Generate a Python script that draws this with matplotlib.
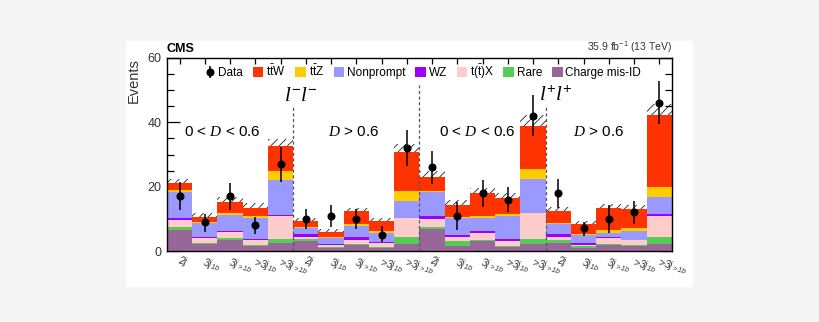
import numpy as np
import matplotlib
matplotlib.use("Agg")
import matplotlib.pyplot as plt
import matplotlib.patches as patches
from matplotlib.ticker import MultipleLocator

plt.rcParams['font.family'] = ['Liberation Sans', 'DejaVu Sans']
plt.rcParams['mathtext.fontset'] = 'custom'
plt.rcParams['mathtext.rm'] = 'Liberation Sans'
plt.rcParams['mathtext.it'] = 'Liberation Serif:italic'
plt.rcParams['mathtext.sf'] = 'Liberation Sans:italic'
plt.rcParams['hatch.linewidth'] = 0.6

# bin labels (4 regions x 5 jet/b categories)
cat_labels = ["2j", r"3j$_{\mathsf{1b}}$", r"3j$_{\mathsf{>1b}}$",
              r">3j$_{\mathsf{1b}}$", r">3j$_{\mathsf{>1b}}$"] * 4

# yields per process, bottom of the stack first
chargemisid = [6.5, 2.1, 3.3, 1.4, 2.6, 3.1, 0.8, 1.9, 0.8, 2.3,
               6.8, 1.6, 3.1, 1.25, 2.1, 2.6, 1.0, 1.9, 1.6, 2.1]
rare = [1.0, 0.5, 0.6, 0.5, 1.0, 0.5, 0.45, 0.2, 0.5, 1.9,
        0.7, 1.5, 0.2, 0.35, 1.5, 0.8, 0.5, 0.2, 0.2, 2.1]
ttx = [2.1, 1.3, 2.1, 1.4, 7.3, 0.8, 0.65, 1.2, 1.3, 6.0,
       2.4, 1.1, 2.4, 1.5, 8.1, 1.1, 0.4, 1.9, 1.5, 6.7]
wz = [0.8, 0.3, 0.15, 0.45, 0.2, 0.8, 0.4, 1.1, 0.3, 0.2,
      1.0, 0.8, 0.55, 0.5, 0.2, 0.7, 0.7, 0.4, 0.2, 0.6]
nonprompt = [7.8, 4.4, 4.9, 6.65, 11.1, 1.9, 1.7, 3.4, 2.8, 5.0,
             7.3, 5.4, 4.15, 7.3, 10.5, 3.1, 2.4, 1.3, 2.75, 5.2]
ttz = [0.8, 0.5, 0.9, 0.6, 2.6, 0.4, 0.4, 0.5, 0.55, 3.35,
       0.55, 0.3, 0.5, 0.6, 3.1, 0.3, 0.4, 0.8, 0.85, 3.1]
ttw = [2.0, 1.5, 3.3, 2.5, 7.8, 1.7, 1.6, 4.0, 2.95, 11.95,
       4.35, 3.7, 7.1, 5.0, 13.5, 3.9, 2.9, 6.8, 5.9, 22.4]
bkg_unc = [1.5, 1.2, 1.4, 1.3, 2.2, 1.0, 0.8, 1.2, 1.0, 2.6,
           1.8, 1.3, 1.5, 1.4, 3.2, 1.2, 0.9, 1.3, 1.3, 3.6]

data = [17, 9, 17, 8, 27, 10, 11, 10, 5, 32,
        26, 11, 18, 16, 42, 18, 7, 10, 12, 46]
data_up = [4.3, 2.6, 4.2, 2.6, 5.2, 3.1, 3.4, 3.1, 2.9, 5.6,
           5.0, 4.1, 4.1, 3.9, 6.5, 4.4, 2.0, 4.3, 3.6, 7.0]
data_dn = [4.2, 3.0, 4.2, 2.8, 5.7, 3.1, 3.4, 3.1, 2.3, 5.5,
           5.2, 4.4, 4.2, 3.9, 6.3, 4.5, 2.4, 4.4, 3.7, 6.5]

procs = [
    ("Charge mis-ID", chargemisid, '#996699'),
    ("Rare", rare, '#55cc55'),
    (r"t($\bar{\mathrm{t}}$)X", ttx, '#ffcccc'),
    ("WZ", wz, '#9900ff'),
    ("Nonprompt", nonprompt, '#9999ff'),
    (r"t$\bar{\mathrm{t}}$Z", ttz, '#ffcc00'),
    (r"t$\bar{\mathrm{t}}$W", ttw, '#ff3300'),
]

nbins = len(data)
centers = np.arange(nbins) + 0.5

fig = plt.figure(figsize=(8.2, 3.22), dpi=100, facecolor='#f5f5f5')
fig.patches.append(patches.Rectangle((126 / 820, 1 - 287 / 322), 567 / 820, 246 / 322,
                                     transform=fig.transFigure, facecolor='white',
                                     edgecolor='none', zorder=-10))
ax = fig.add_axes([167 / 820, 1 - 251 / 322, 505 / 820, 193 / 322])
ax.set_facecolor('white')

bottom = np.zeros(nbins)
handles = {}
for name, vals, color in procs:
    vals = np.array(vals)
    h = ax.bar(centers, vals, bottom=bottom, width=1.0, color=color,
               linewidth=0, zorder=2, label=name)
    handles[name] = h
    bottom = bottom + vals
total = bottom

unc = np.array(bkg_unc)
ax.bar(centers, 2 * unc, bottom=total - unc, width=1.0, fill=False,
       hatch='////', edgecolor='#222222', linewidth=0, zorder=1)

eb = ax.errorbar(centers, data, yerr=[data_dn, data_up], fmt='o', color='black',
                 markersize=4.8, elinewidth=1.1, capsize=0, zorder=5, label='Data')

# region separators
for xb, ytop in [(5, 45.3), (10, 51.5), (15, 45.3)]:
    ax.plot([xb, xb], [0, ytop], color='#555555', linestyle=(0, (2.5, 2)),
            linewidth=0.9, zorder=4)

ax.text(5.3, 48.3, r"$l^{-}l^{-}$", fontsize=15, ha='center', va='center')
ax.text(15.4, 48.3, r"$l^{+}l^{+}$", fontsize=15, ha='center', va='center')
for xt, txt in [(2.2, r"0 < $D$ < 0.6"), (7.4, r"$D$ > 0.6"),
                (12.3, r"0 < $D$ < 0.6"), (17.1, r"$D$ > 0.6")]:
    ax.text(xt, 36.9, txt, fontsize=11, ha='center', va='center')

leg_order = ["Data", r"t$\bar{\mathrm{t}}$W", r"t$\bar{\mathrm{t}}$Z", "Nonprompt",
             "WZ", r"t($\bar{\mathrm{t}}$)X", "Rare", "Charge mis-ID"]
leg_handles = [eb] + [handles[n] for n in leg_order[1:]]
ax.legend(leg_handles, leg_order, ncol=8, loc='center', bbox_to_anchor=(0.507, 0.927),
          frameon=False, fontsize=8.5, handlelength=0.9, handleheight=0.9,
          handletextpad=0.25, columnspacing=0.8, borderpad=0)

ax.set_xlim(0, nbins)
ax.set_ylim(0, 60)
ax.set_xticks(centers)
ax.set_xticklabels(cat_labels, rotation=-15, ha='left', va='top',
                   rotation_mode='anchor', fontsize=7.5, style='italic', color='#333333')
ax.yaxis.set_major_locator(MultipleLocator(20))
ax.yaxis.set_minor_locator(MultipleLocator(5))
ax.tick_params(axis='y', which='major', direction='in', length=9, width=0.9,
               right=True, labelsize=9, pad=4, labelcolor='#333333')
ax.tick_params(axis='y', which='minor', direction='in', length=5, width=0.9, right=True)
ax.tick_params(axis='x', which='major', direction='in', length=4, width=0.9,
               top=True, pad=3)
for sp in ax.spines.values():
    sp.set_linewidth(1.0)

ax.set_ylabel("Events", fontsize=10.5, loc='top', color='#333333', labelpad=5)
ax.text(0.0, 1.015, "CMS", transform=ax.transAxes, fontsize=9, fontweight='bold',
        ha='left', va='bottom')
ax.text(1.0, 1.015, r"35.9 fb$^{-1}$ (13 TeV)", transform=ax.transAxes, fontsize=7.5,
        ha='right', va='bottom', color='#333333')

fig.savefig("out.png", dpi=100, facecolor=fig.get_facecolor())
